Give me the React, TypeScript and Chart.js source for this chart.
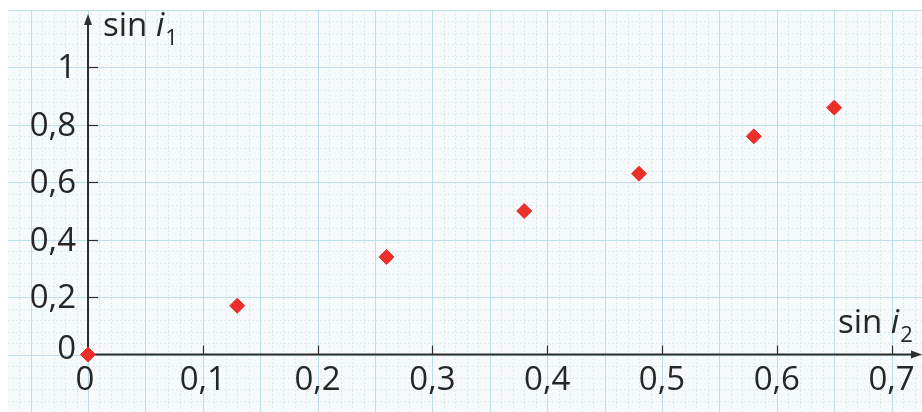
import React, { useEffect, useRef } from "react";
import { Chart, registerables } from "chart.js";

Chart.register(...registerables);

// Data
const sinI2 = [0, 0.13, 0.26, 0.38, 0.48, 0.58, 0.65];
const sinI1 = [0, 0.17, 0.34, 0.5, 0.63, 0.76, 0.86];

const xTickValues = [0, 0.1, 0.2, 0.3, 0.4, 0.5, 0.6, 0.7];
const xTickLabels = ["0", "0,1", "0,2", "0,3", "0,4", "0,5", "0,6", "0,7"];
const yTickValues = [0, 0.2, 0.4, 0.6, 0.8, 1];
const yTickLabels = ["0", "0,2", "0,4", "0,6", "0,8", "1"];

const xTitle = { base: "sin ", italic: "i", sub: "2" };
const yTitle = { base: "sin ", italic: "i", sub: "1" };

const X_MIN = -0.0697;
const X_MAX = 0.7265;
const Y_MIN = -0.2;
const Y_MAX = 1.2;

const FONT = '"Open Sans", "Noto Sans", sans-serif';
const TEXT = "#262626";
const AXIS = "#2e2e2e";

function drawTitle(ctx: CanvasRenderingContext2D, t: { base: string; italic: string; sub: string }, x: number, y: number) {
  ctx.fillStyle = TEXT;
  ctx.textAlign = "left";
  ctx.textBaseline = "alphabetic";
  ctx.font = `33px ${FONT}`;
  ctx.fillText(t.base, x, y);
  let cx = x + ctx.measureText(t.base).width;
  ctx.font = `italic 33px ${FONT}`;
  ctx.fillText(t.italic, cx, y);
  cx += ctx.measureText(t.italic).width + 1;
  ctx.font = `22px ${FONT}`;
  ctx.fillText(t.sub, cx, y + 9);
}

const paperPlugin = {
  id: "paper",
  beforeDatasetsDraw(chart: any) {
    const { ctx, chartArea: a, scales } = chart;
    const xs = scales.x;
    const ys = scales.y;
    ctx.save();
    ctx.fillStyle = "#f6fafb";
    ctx.fillRect(a.left, a.top, a.right - a.left, a.bottom - a.top);

    const vline = (v: number) => {
      const px = Math.round(xs.getPixelForValue(v)) + 0.5;
      ctx.beginPath();
      ctx.moveTo(px, a.top);
      ctx.lineTo(px, a.bottom);
      ctx.stroke();
    };
    const hline = (v: number) => {
      const py = Math.round(ys.getPixelForValue(v)) + 0.5;
      ctx.beginPath();
      ctx.moveTo(a.left, py);
      ctx.lineTo(a.right, py);
      ctx.stroke();
    };

    // minor grid
    ctx.lineWidth = 1;
    ctx.strokeStyle = "#dcecf1";
    ctx.setLineDash([2, 2]);
    for (let i = Math.ceil(X_MIN / 0.01); i * 0.01 <= X_MAX + 1e-9; i++) {
      if (i % 5 === 0) continue;
      vline(i * 0.01);
    }
    for (let i = Math.ceil(Y_MIN / 0.04 - 1e-9); i * 0.04 <= Y_MAX + 1e-9; i++) {
      if (i % 5 === 0) continue;
      hline(i * 0.04);
    }
    // major grid
    ctx.setLineDash([]);
    ctx.strokeStyle = "#bcdfe9";
    for (let i = Math.ceil(X_MIN / 0.05); i * 0.05 <= X_MAX + 1e-9; i++) vline(i * 0.05);
    for (let i = Math.ceil(Y_MIN / 0.2 - 1e-9); i * 0.2 <= Y_MAX + 1e-9; i++) hline(i * 0.2);

    const ox = xs.getPixelForValue(0);
    const oy = ys.getPixelForValue(0);

    // axes
    ctx.strokeStyle = AXIS;
    ctx.fillStyle = AXIS;
    ctx.lineWidth = 2;
    ctx.beginPath();
    ctx.moveTo(ox, oy);
    ctx.lineTo(ox, a.top + 10);
    ctx.stroke();
    ctx.beginPath();
    ctx.moveTo(ox, a.top + 4);
    ctx.lineTo(ox - 4, a.top + 15);
    ctx.lineTo(ox + 4, a.top + 15);
    ctx.closePath();
    ctx.fill();

    ctx.beginPath();
    ctx.moveTo(ox, oy);
    ctx.lineTo(a.right - 8, oy);
    ctx.stroke();
    ctx.beginPath();
    ctx.moveTo(a.right, oy);
    ctx.lineTo(a.right - 11, oy - 4);
    ctx.lineTo(a.right - 11, oy + 4);
    ctx.closePath();
    ctx.fill();

    // ticks
    ctx.lineWidth = 1.2;
    xTickValues.forEach((v) => {
      if (v === 0) return;
      const px = Math.round(xs.getPixelForValue(v)) + 0.5;
      ctx.beginPath();
      ctx.moveTo(px, oy);
      ctx.lineTo(px, oy - 9);
      ctx.stroke();
    });
    yTickValues.forEach((v) => {
      if (v === 0) return;
      const py = Math.round(ys.getPixelForValue(v)) + 0.5;
      ctx.beginPath();
      ctx.moveTo(ox, py);
      ctx.lineTo(ox + 10, py);
      ctx.stroke();
    });

    // tick labels
    ctx.fillStyle = TEXT;
    ctx.font = `33px ${FONT}`;
    ctx.textBaseline = "alphabetic";
    ctx.textAlign = "center";
    xTickValues.forEach((v, i) => {
      ctx.fillText(xTickLabels[i], xs.getPixelForValue(v) - (v === 0 ? 3 : 0), oy + 35);
    });
    ctx.textAlign = "right";
    yTickValues.forEach((v, i) => {
      ctx.fillText(yTickLabels[i], ox - 12, ys.getPixelForValue(v) + (v === 0 ? 4 : 11));
    });

    // axis titles
    drawTitle(ctx, yTitle, ox + 15, a.top + 26);
    drawTitle(ctx, xTitle, a.right - 84, oy - 22);

    ctx.restore();
  },
};

export default function App() {
  const ref = useRef<HTMLCanvasElement | null>(null);

  useEffect(() => {
    if (!ref.current) return;
    const chart = new Chart(ref.current, {
      type: "scatter",
      data: {
        datasets: [
          {
            data: sinI2.map((x, i) => ({ x, y: sinI1[i] })),
            pointStyle: "rectRot",
            pointRadius: 7.5,
            pointHoverRadius: 7.5,
            backgroundColor: "#ec2f2b",
            borderColor: "#ec2f2b",
            borderWidth: 1,
            clip: false as any,
          },
        ],
      },
      options: {
        responsive: false,
        animation: false,
        events: [],
        layout: { autoPadding: false, padding: { left: 8, top: 10, right: 0, bottom: 0 } },
        plugins: { legend: { display: false }, tooltip: { enabled: false } },
        scales: {
          x: { type: "linear", min: X_MIN, max: X_MAX, display: false },
          y: { type: "linear", min: Y_MIN, max: Y_MAX, display: false },
        },
      },
      plugins: [paperPlugin],
    });
    return () => chart.destroy();
  }, []);

  return (
    <div style={{ position: "absolute", left: 0, top: 0, width: 922, height: 412, background: "#fff" }}>
      <canvas ref={ref} width={922} height={412} style={{ display: "block" }} />
    </div>
  );
}
